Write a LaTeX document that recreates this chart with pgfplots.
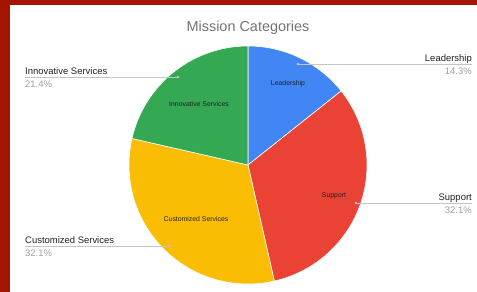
\documentclass[border=0pt]{standalone}
\usepackage{pgfplots}
\pgfplotsset{compat=1.18}
\usetikzlibrary{backgrounds}
\usepackage{fontspec}
\setmainfont{Liberation Sans}
\definecolor{gblue}{HTML}{4285F4}
\definecolor{gred}{HTML}{EA4335}
\definecolor{gyellow}{HTML}{FBBC04}
\definecolor{ggreen}{HTML}{34A853}
\definecolor{maroon}{HTML}{A31500}
\definecolor{titlegray}{HTML}{757575}
\definecolor{namegray}{HTML}{222222}
\definecolor{pctgray}{HTML}{A0A0A0}
\definecolor{leadgray}{HTML}{C4C4C4}
% slice values (percent), clockwise from 12 o'clock
\pgfmathsetmacro{\vL}{14.3}% Leadership
\pgfmathsetmacro{\vS}{32.1}% Support
\pgfmathsetmacro{\vC}{32.1}% Customized Services
\pgfmathsetmacro{\vI}{21.4}% Innovative Services
\pgfmathsetmacro{\tot}{\vL+\vS+\vC+\vI}%
\pgfmathsetmacro{\aA}{\vL/\tot*360}%
\pgfmathsetmacro{\aB}{(\vL+\vS)/\tot*360}%
\pgfmathsetmacro{\aC}{(\vL+\vS+\vC)/\tot*360}%
\begin{document}%
\begin{tikzpicture}
\begin{axis}[
  name=ax,
  scale only axis, width=477bp, height=292bp,
  xmin=0, xmax=477, ymin=0, ymax=292, y dir=reverse,
  hide axis, clip=false,
]
\addplot[draw=white, line width=0.6pt, fill=gblue, domain=0:\aA, samples=60]
  ({248+119*sin(x)},{165-119*cos(x)}) -- (axis cs:248,165) -- cycle;
\addplot[draw=white, line width=0.6pt, fill=gred, domain=\aA:\aB, samples=80]
  ({248+119*sin(x)},{165-119*cos(x)}) -- (axis cs:248,165) -- cycle;
\addplot[draw=white, line width=0.6pt, fill=gyellow, domain=\aB:\aC, samples=80]
  ({248+119*sin(x)},{165-119*cos(x)}) -- (axis cs:248,165) -- cycle;
\addplot[draw=white, line width=0.6pt, fill=ggreen, domain=\aC:360, samples=60]
  ({248+119*sin(x)},{165-119*cos(x)}) -- (axis cs:248,165) -- cycle;
% leader lines
\addplot[leadgray, line width=0.7pt, mark=*, mark size=0.8pt, mark indices={1}] coordinates {(298,64) (472,64)};
\addplot[leadgray, line width=0.7pt, mark=*, mark size=0.8pt, mark indices={1}] coordinates {(356,203) (472,203)};
\addplot[leadgray, line width=0.7pt, mark=*, mark size=0.8pt, mark indices={2}] coordinates {(25,77) (178,77)};
\addplot[leadgray, line width=0.7pt, mark=*, mark size=0.8pt, mark indices={2}] coordinates {(25,246) (169,246)};
% title
\node[titlegray, font=\fontsize{14.5}{17}\selectfont] at (axis cs:248,28) {Mission Categories};
% inside labels
\begin{scope}[every node/.style={font=\fontsize{6.9}{8}\selectfont, text=namegray, inner sep=0pt}]
\node at (axis cs:288,84) {Leadership};
\node at (axis cs:334,196) {Support};
\node at (axis cs:196,219) {Customized Services};
\node at (axis cs:199,104) {Innovative Services};
\end{scope}
% outside labels
\begin{scope}[every node/.style={font=\fontsize{9.5}{11}\selectfont, inner sep=0pt}]
\node[anchor=base east, text=namegray] at (axis cs:472,61) {Leadership};
\node[anchor=base east, text=pctgray] at (axis cs:472,74) {14.3\%};
\node[anchor=base east, text=namegray] at (axis cs:472,200) {Support};
\node[anchor=base east, text=pctgray] at (axis cs:472,213) {32.1\%};
\node[anchor=base west, text=namegray] at (axis cs:25,74) {Innovative Services};
\node[anchor=base west, text=pctgray] at (axis cs:25,87) {21.4\%};
\node[anchor=base west, text=namegray] at (axis cs:25,243) {Customized Services};
\node[anchor=base west, text=pctgray] at (axis cs:25,256) {32.1\%};
\end{scope}
\end{axis}
\begin{scope}[on background layer]
\fill[maroon] (ax.south west) rectangle (ax.north east);
\fill[white] ([xshift=10bp]ax.south west) rectangle ([yshift=-5bp]ax.north east);
\end{scope}
\pgfresetboundingbox
\path[use as bounding box] (ax.south west) rectangle (ax.north east);
\end{tikzpicture}%
\end{document}
